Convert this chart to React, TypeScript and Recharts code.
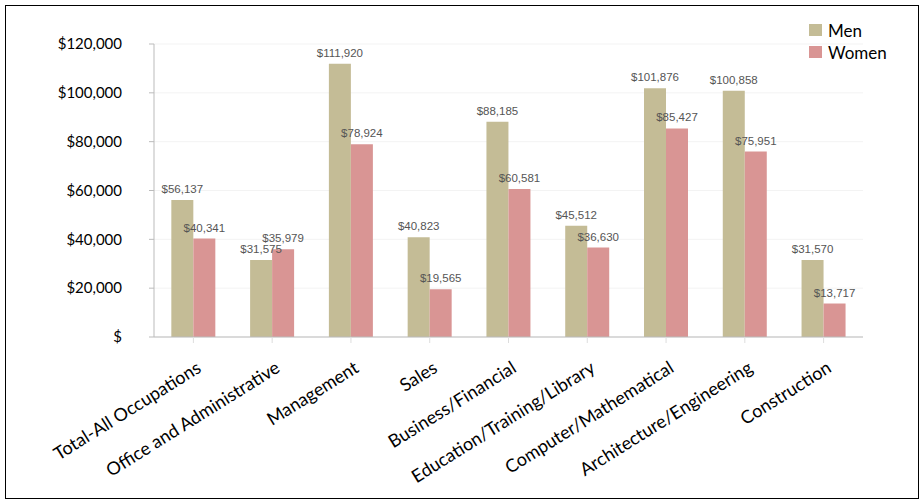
import React from 'react';
import { BarChart, Bar, XAxis, YAxis, CartesianGrid, Legend, LabelList } from 'recharts';

const categories = [
  'Total-All Occupations',
  'Office and Administrative',
  'Management',
  'Sales',
  'Business/Financial',
  'Education/Training/Library',
  'Computer/Mathematical',
  'Architecture/Engineering',
  'Construction',
];
const men = [56137, 31575, 111920, 40823, 88185, 45512, 101876, 100858, 31570];
const women = [40341, 35979, 78924, 19565, 60581, 36630, 85427, 75951, 13717];
const yTicks = [0, 20000, 40000, 60000, 80000, 100000, 120000];

const data = categories.map((name, i) => ({ name, men: men[i], women: women[i] }));

const MEN_COLOR = '#C4BC96';
const WOMEN_COLOR = '#D99594';
const FONT = 'Lato, "Open Sans", sans-serif';
const LABEL_FONT = '"Liberation Sans", Arial, sans-serif';

const money = (v: number) => (v === 0 ? '$' : '$' + v.toLocaleString('en-US'));

// rotated category names, ending just right of the category centre
function CategoryTick(props: any) {
  const { x, y, payload } = props;
  const tx = x + 9;
  const ty = y + 26;
  return (
    <text
      x={tx}
      y={ty}
      transform={`rotate(-32, ${tx}, ${ty})`}
      textAnchor="end"
      fill="#000"
      fontSize={18}
      fontFamily={FONT}
    >
      {payload.value}
    </text>
  );
}

function LegendBox() {
  const items = [
    { label: 'Men', color: MEN_COLOR },
    { label: 'Women', color: WOMEN_COLOR },
  ];
  return (
    <div style={{ fontFamily: FONT, fontSize: 17, color: '#000' }}>
      {items.map((it) => (
        <div key={it.label} style={{ display: 'flex', alignItems: 'center', height: 22 }}>
          <span style={{ width: 13, height: 12, background: it.color, marginRight: 6, display: 'inline-block' }} />
          <span>{it.label}</span>
        </div>
      ))}
    </div>
  );
}

export default function App() {
  return (
    <div
      style={{
        position: 'absolute',
        left: 5,
        top: 5,
        width: 912,
        height: 492,
        border: '1px solid #000',
        background: '#fff',
      }}
    >
      <BarChart
        width={912}
        height={492}
        data={data}
        margin={{ top: 38, right: 55, left: 0, bottom: 0 }}
        barCategoryGap="22%"
        barGap={0}
      >
        <CartesianGrid vertical={false} stroke="#f3f3f3" />
        <XAxis
          dataKey="name"
          interval={0}
          height={161}
          tick={<CategoryTick />}
          axisLine={{ stroke: '#bbb' }}
          tickLine={{ stroke: '#ddd' }}
        />
        <YAxis
          width={148}
          domain={[0, 120000]}
          ticks={yTicks}
          tickFormatter={money}
          tick={{ fill: '#000', fontSize: 15, fontFamily: FONT }}
          tickSize={5}
          tickMargin={27}
          axisLine={{ stroke: '#bbb' }}
          tickLine={{ stroke: '#bbb' }}
        />
        {/* centre/middle so the legend takes no room from the plot; placed by wrapperStyle */}
        <Legend
          layout="vertical"
          align="center"
          verticalAlign="middle"
          content={<LegendBox />}
          wrapperStyle={{ top: 13, left: 803, right: 'auto', bottom: 'auto', width: 'auto' }}
        />
        <Bar dataKey="men" name="Men" fill={MEN_COLOR} isAnimationActive={false}>
          <LabelList
            dataKey="men"
            position="top"
            offset={7}
            formatter={(v: any) => money(Number(v))}
            fill="#555"
            fontSize={11.5}
            fontFamily={LABEL_FONT}
          />
        </Bar>
        <Bar dataKey="women" name="Women" fill={WOMEN_COLOR} isAnimationActive={false}>
          <LabelList
            dataKey="women"
            position="top"
            offset={7}
            formatter={(v: any) => money(Number(v))}
            fill="#555"
            fontSize={11.5}
            fontFamily={LABEL_FONT}
          />
        </Bar>
      </BarChart>
    </div>
  );
}
